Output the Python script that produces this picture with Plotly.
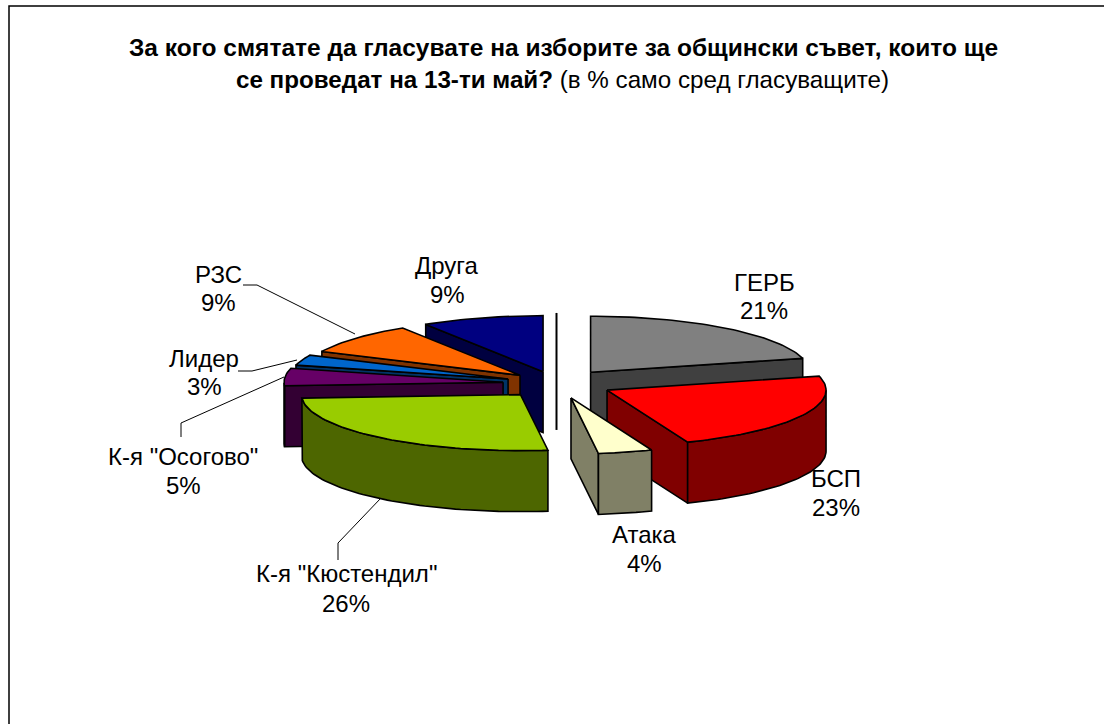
import math
import plotly.graph_objects as go

# --- data ---
names = ["ГЕРБ", "БСП", "Атака", "К-я \"Кюстендил\"", "К-я \"Осогово\"", "Лидер", "РЗС", "Друга", ""]
values = [21, 23, 4, 26, 5, 3, 9, 9, 0]

# --- style ---
top_colors = ["#808080", "#FF0000", "#FFFFCC", "#99CC00", "#660066", "#0066CC", "#FF6600", "#000080", "#000000"]
wall_colors = ["#404040", "#800000", "#808066", "#4D6600", "#330033", "#003366", "#803300", "#000040", "#000000"]
pull = [0.254, 0.259, 0.266, 0.258, 0.245, 0.235, 0.222, 0.22, 0.26]
draw_order = [8, 7, 6, 5, 4, 0, 1, 2, 3]
CX, CY, RX, RY, DEPTH = 556.5, 383.5, 219, 56, 61
EDGE = 1.6

# label placement: centre x, name y, percent y
label_pos = [(764, 282, 310), (836, 478, 507), (644, 534, 563), (346, 573, 603),
             (183, 456, 485), (204, 358, 386), (218, 274, 302), (447, 265, 294), None]
leaders = [
    [(243, 285), (257, 285), (355, 334)],
    [(238, 371), (252, 371), (297, 360)],
    [(181, 437), (181, 423), (284, 377)],
    [(338, 560), (338, 543), (381, 498)],
]

fig = go.Figure()


def pt(apex, ang, drop=0.0):
    return apex[0] + RX * math.sin(ang), apex[1] - RY * math.cos(ang) + drop


def poly(points, color):
    xs = [p[0] for p in points] + [points[0][0]]
    ys = [p[1] for p in points] + [points[0][1]]
    fig.add_trace(go.Scatter(x=xs, y=ys, mode="lines", fill="toself", fillcolor=color,
                             line=dict(color="black", width=EDGE), hoverinfo="skip", showlegend=False))


total = sum(values)
starts = []
acc = 0
for v in values:
    starts.append(acc)
    acc += v
# the empty slice sits at the 12 o'clock seam
starts[8] = 0

for i in draw_order:
    a0 = 2 * math.pi * starts[i] / total
    a1 = 2 * math.pi * (starts[i] + values[i]) / total
    mid = (a0 + a1) / 2
    apex = (CX + pull[i] * RX * math.sin(mid), CY - pull[i] * RY * math.cos(mid))
    n = max(2, int((a1 - a0) * 40))
    angs = [a0 + (a1 - a0) * k / n for k in range(n + 1)]
    if values[i] == 0:
        p = pt(apex, 0)
        fig.add_trace(go.Scatter(x=[p[0], p[0]], y=[p[1], apex[1] + DEPTH], mode="lines",
                                 line=dict(color="black", width=2), hoverinfo="skip", showlegend=False))
        continue
    if math.sin(a0) < -1e-6:
        poly([apex, pt(apex, a0), pt(apex, a0, DEPTH), (apex[0], apex[1] + DEPTH)], wall_colors[i])
    if math.sin(a1) > 1e-6:
        poly([apex, pt(apex, a1), pt(apex, a1, DEPTH), (apex[0], apex[1] + DEPTH)], wall_colors[i])
    front = [a for a in angs if math.cos(a) < 0]
    if front:
        poly([pt(apex, a) for a in front] + [pt(apex, a, DEPTH) for a in reversed(front)], wall_colors[i])
    poly([apex] + [pt(apex, a) for a in angs], top_colors[i])

for seg in leaders:
    fig.add_trace(go.Scatter(x=[p[0] for p in seg], y=[p[1] for p in seg], mode="lines",
                             line=dict(color="black", width=1), hoverinfo="skip", showlegend=False))

FONT = "Liberation Sans, Arial, sans-serif"
for name, v, pos in zip(names, values, label_pos):
    if pos is None:
        continue
    fig.add_annotation(x=pos[0], y=pos[1], text=name, showarrow=False, font=dict(family=FONT, size=24, color="black"))
    fig.add_annotation(x=pos[0], y=pos[2], text=f"{v}%", showarrow=False, font=dict(family=FONT, size=24, color="black"))

fig.add_annotation(x=563, y=47, showarrow=False, font=dict(family=FONT, size=24.5, color="black"),
                   text="<b>За кого смятате да гласувате на изборите за общински съвет, които ще</b>")
fig.add_annotation(x=562, y=79, showarrow=False, font=dict(family=FONT, size=24.2, color="black"),
                   text="<b>се проведат на 13-ти май?</b> (в % само сред гласуващите)")

fig.update_layout(
    width=1104, height=724, margin=dict(l=0, r=0, t=0, b=0),
    paper_bgcolor="white", plot_bgcolor="white", showlegend=False,
    xaxis=dict(range=[0, 1104], visible=False, fixedrange=True),
    yaxis=dict(range=[724, 0], visible=False, fixedrange=True),
    shapes=[dict(type="rect", xref="x", yref="y", x0=9, y0=6, x1=1200, y1=800,
                 line=dict(color="black", width=1.5), fillcolor="rgba(0,0,0,0)", layer="below")],
)
fig.write_html("out.html", config={"displayModeBar": False},
               post_script="document.documentElement.style.overflow='hidden';document.body.style.margin='0';")
